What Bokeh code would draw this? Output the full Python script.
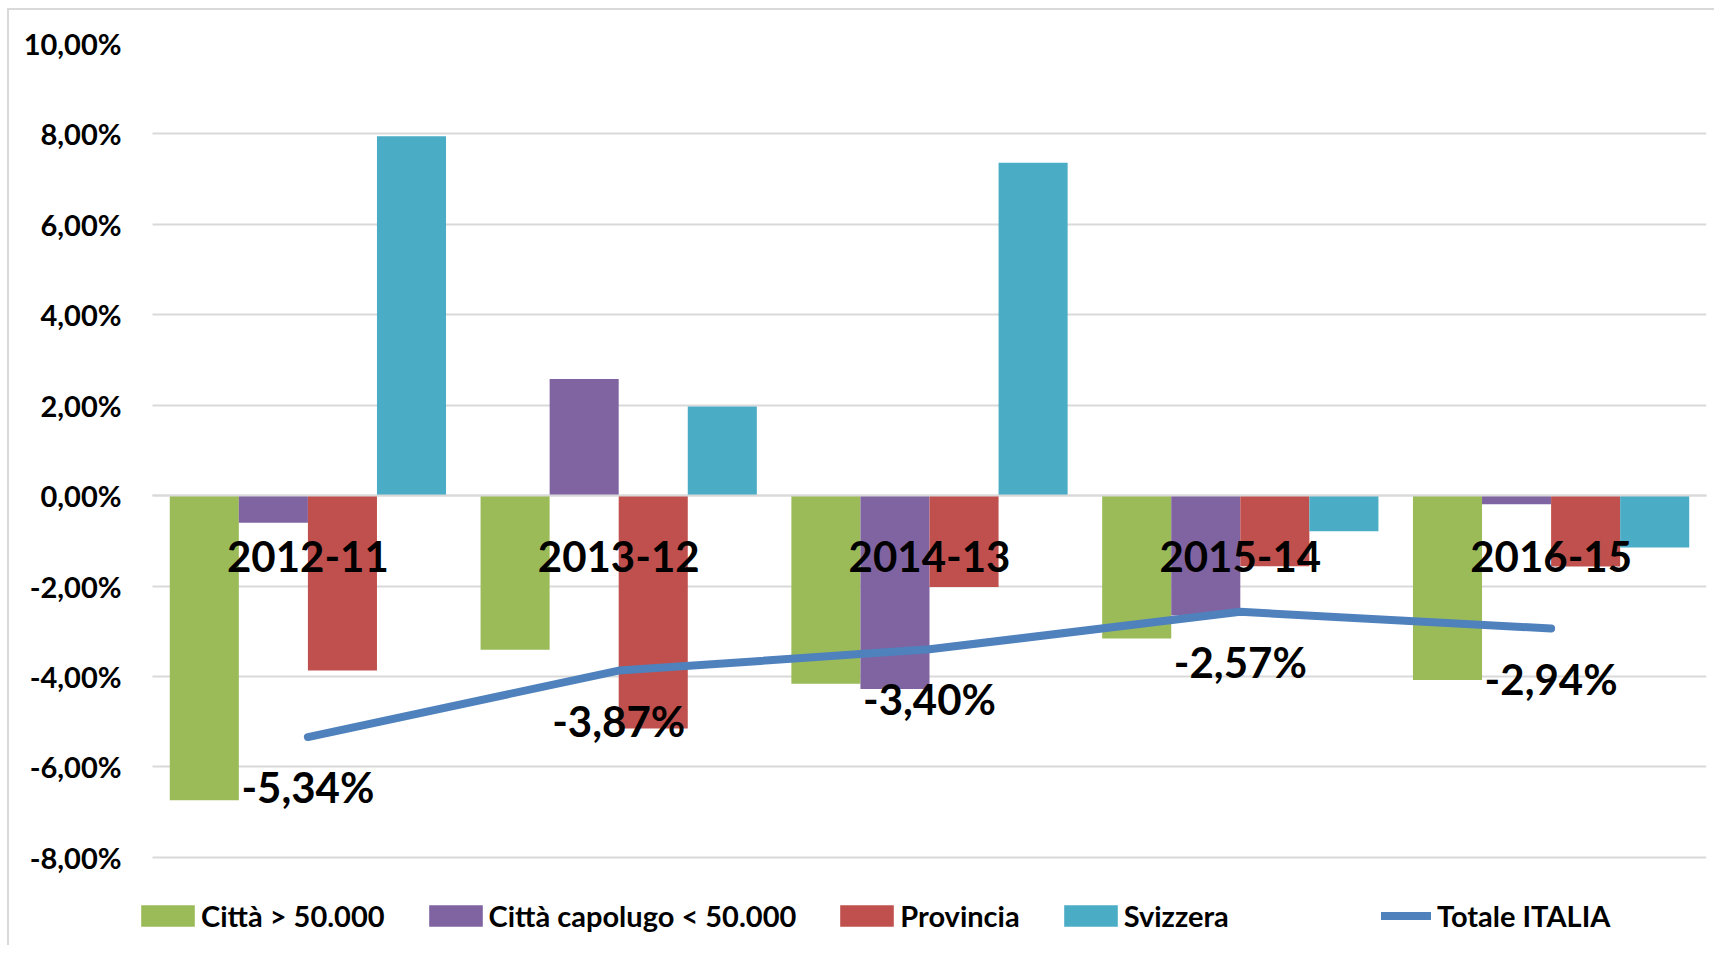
from bokeh.plotting import figure
from bokeh.models import (Range1d, FixedTicker, Legend, LegendItem, Grid,
                          ColumnDataSource)
from bokeh.core.properties import value
from bokeh.embed import file_html
from bokeh.resources import INLINE

categories = ["2012-11", "2013-12", "2014-13", "2015-14", "2016-15"]
citta_50000 = [-6.74, -3.41, -4.16, -3.16, -4.08]
citta_capoluogo = [-0.60, 2.58, -4.28, -2.65, -0.19]
provincia = [-3.87, -5.15, -2.02, -1.56, -1.57]
svizzera = [7.95, 1.97, 7.36, -0.79, -1.15]
totale_italia = [-5.34, -3.87, -3.40, -2.57, -2.94]

series_names = ["Città > 50.000", "Città capolugo < 50.000", "Provincia", "Svizzera"]
line_name = "Totale ITALIA"
y_ticks = [-8, -6, -4, -2, 0, 2, 4, 6, 8, 10]
y_tick_labels = ["-8,00%", "-6,00%", "-4,00%", "-2,00%", "0,00%",
                 "2,00%", "4,00%", "6,00%", "8,00%", "10,00%"]

colors = ["#9bbb59", "#8064a2", "#c0504d", "#4bacc6"]
line_color = "#4f81bd"
FONT = "Lato"


def fmt(v):
    return ("%.2f" % v).replace(".", ",") + "%"


n = len(categories)
pos = list(range(n))  # category slots on the x scale
bw = 1.0 / 4.5
offsets = [-1.5 * bw, -0.5 * bw, 0.5 * bw, 1.5 * bw]
series = [citta_50000, citta_capoluogo, provincia, svizzera]

data = dict(cat=categories, pos=pos, tot=totale_italia,
            tot_label=[fmt(v) for v in totale_italia], zero=[0] * n)
for i in range(4):
    data["s%d" % i] = series[i]
    data["x%d" % i] = [x + offsets[i] for x in pos]
src = ColumnDataSource(data)

# layout: 310.8 px per category slot, 45.21 px per percentage point
PX_PER_CAT = 1554 / 5.0
PX_PER_UNIT = 813.8 / 18.0
LEFT_PAD = 28           # px of frame left of the first category slot
FRAME_W = 1554 + LEFT_PAD
FRAME_H = 900
y_top = 10
y_bottom = y_top - FRAME_H / PX_PER_UNIT
x_start = -0.5 - LEFT_PAD / PX_PER_CAT
x_end = n - 0.5

p = figure(x_range=Range1d(x_start, x_end), y_range=(y_bottom, y_top),
           width=1707, height=33 + FRAME_H + 4,
           output_backend="svg", toolbar_location=None,
           min_border_left=115, min_border_right=1707 - 115 - FRAME_W,
           min_border_top=33, min_border_bottom=4)
p.styles = {"margin-left": "7px", "margin-top": "8px",
            "border-left": "2px solid #d9d9d9", "border-top": "2px solid #d9d9d9"}
p.outline_line_color = None
p.background_fill_color = "white"
p.border_fill_color = "white"

p.xaxis.visible = False
p.xgrid.grid_line_color = None
p.ygrid.grid_line_color = "#d9d9d9"
p.ygrid.grid_line_width = 2
p.ygrid.ticker = FixedTicker(ticks=y_ticks)
p.ygrid.cross_bounds = (-0.5, x_end)
p.yaxis.ticker = FixedTicker(ticks=y_ticks)
p.yaxis.major_label_overrides = {t: l for t, l in zip(y_ticks, y_tick_labels)}
p.yaxis.axis_line_color = None
p.yaxis.major_tick_line_color = None
p.yaxis.minor_tick_line_color = None
p.yaxis.major_tick_out = 0
p.yaxis.major_tick_in = 0
p.yaxis.major_label_text_font = FONT
p.yaxis.major_label_text_font_style = "bold"
p.yaxis.major_label_text_font_size = "29px"
p.yaxis.major_label_text_color = "black"
p.yaxis.major_label_standoff = 3

bar_renderers = []
for i in range(4):
    r = p.vbar(x="x%d" % i, top="s%d" % i, bottom=0, width=bw, source=src,
               fill_color=colors[i], line_color=None)
    bar_renderers.append(r)

# horizontal category axis line at 0, drawn above the bars
zero_line = Grid(dimension=1, ticker=FixedTicker(ticks=[0]), level="overlay",
                 grid_line_color="#d9d9d9", grid_line_width=2,
                 cross_bounds=(-0.5, x_end))
p.add_layout(zero_line)

line_r = p.line(x="pos", y="tot", source=src, line_color=line_color,
                line_width=8, line_cap="round", line_join="round")

p.text(x="pos", y="zero", text="cat", source=src, y_offset=61,
       text_align="center", text_baseline="middle",
       text_font=value(FONT), text_font_style="bold",
       text_font_size="42px", text_color="black")

p.text(x="pos", y="tot", text="tot_label", source=src, y_offset=50,
       text_align="center", text_baseline="middle",
       text_font=value(FONT), text_font_style="bold",
       text_font_size="42px", text_color="black")

common = dict(orientation="horizontal", label_height=17, padding=0,
              margin=0, border_line_color=None, background_fill_alpha=0,
              label_text_font=FONT, label_text_font_style="bold",
              label_text_font_size="29px", label_text_color="black")

leg1 = Legend(items=[LegendItem(label=series_names[i], renderers=[bar_renderers[i]])
                     for i in range(4)],
              location=(10, 10), glyph_width=67, glyph_height=27,
              label_standoff=-2, spacing=37, **common)
leg2 = Legend(items=[LegendItem(label=line_name, renderers=[line_r])],
              location=(1257, 10), glyph_width=50, glyph_height=27,
              label_standoff=6, spacing=37, **common)
p.add_layout(leg1, "center")
p.add_layout(leg2, "center")

open("out.html", "w").write(file_html(p, INLINE))
